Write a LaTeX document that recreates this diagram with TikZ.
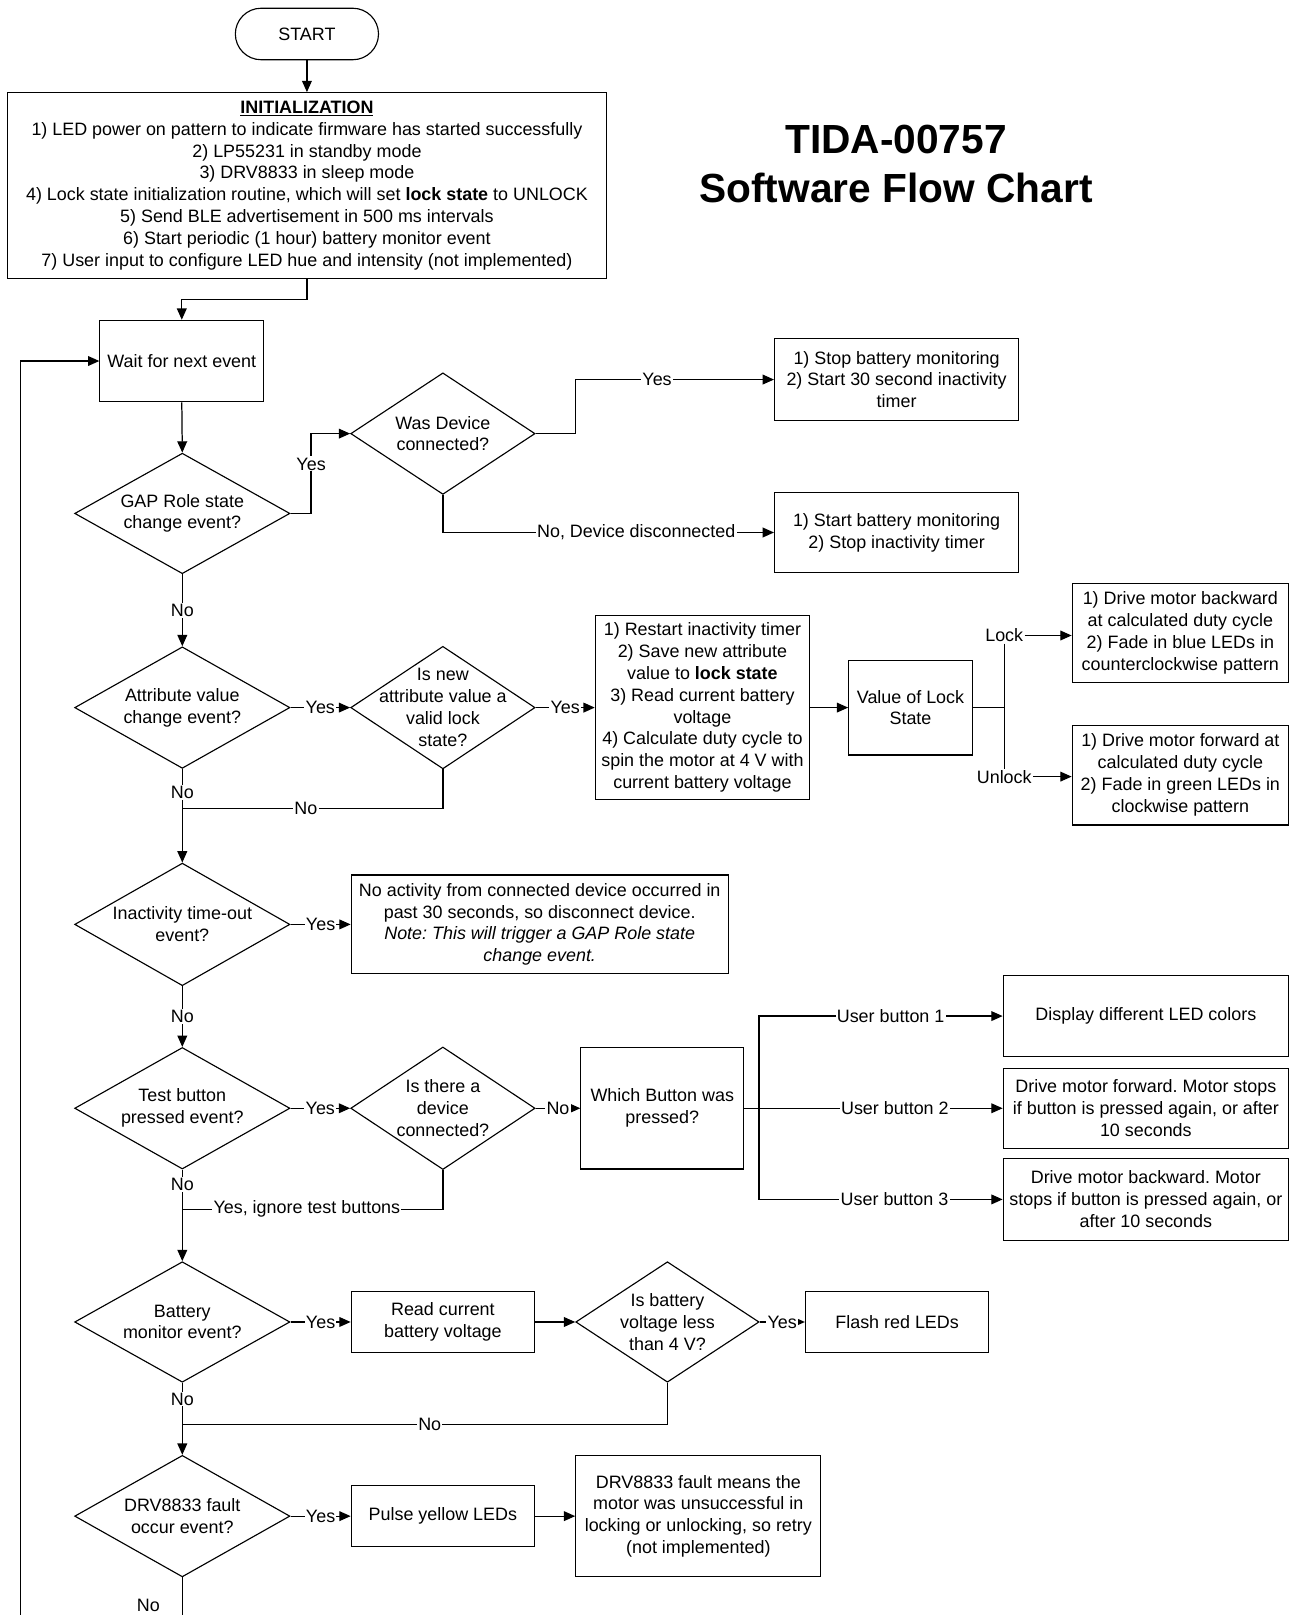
\documentclass[tikz,border=0pt]{standalone}
\usepackage{fontspec}
\setmainfont{Liberation Sans}
\usetikzlibrary{arrows.meta,shapes.geometric,calc}
\frenchspacing
\begin{document}
\begin{tikzpicture}[x=1pt,y=-1pt,
  every node/.style={font=\fontsize{17.4}{21.2}\selectfont},
  box/.style={draw, rectangle, inner sep=0pt, align=center, line width=1.1pt},
  dia/.style={draw, diamond, inner sep=0pt, line width=1.1pt},
  dtext/.style={align=center, inner sep=0pt},
  lbl/.style={fill=white, inner sep=1.2pt},
  conn/.style={line width=1.2pt},
  arr/.style={conn, -{Triangle[length=11pt,width=9.5pt]}},
]
\useasboundingbox (0,0) rectangle (1253.4,1568);
\fill[white] (0,0) rectangle (1253.4,1568);
\clip (0,0) rectangle (1253.4,1568);

% title
\node[align=center, font=\fontsize{39.5}{48}\selectfont\bfseries] (title) at (870,159) {TIDA-00757\\Software Flow Chart};

% nodes
\node[box, rounded corners=25pt, minimum width=139pt, minimum height=50pt] (start) at (298,33) {START};
\node[box, minimum width=582pt, minimum height=180pt] (init) at (298,180) {\underline{\textbf{INITIALIZATION}}\\1) LED power on pattern to indicate firmware has started successfully\\2) LP55231 in standby mode\\3) DRV8833 in sleep mode\\4) Lock state initialization routine, which will set \textbf{lock state} to UNLOCK\\5) Send BLE advertisement in 500 ms intervals\\6) Start periodic (1 hour) battery monitor event\\7) User input to configure LED hue and intensity (not implemented)};
\node[box, minimum width=159pt, minimum height=79pt] (wait) at (176.5,350.5) {Wait for next event};

\node[dia, minimum width=209pt, minimum height=117pt] (gap) at (177,498.5) {};
\node[dtext] at (gap) {GAP Role state\\change event?};
\node[dia, minimum width=179pt, minimum height=118pt] (wasdev) at (430,421) {};
\node[dtext] at (wasdev) {Was Device\\connected?};
\node[box, minimum width=237pt, minimum height=79pt] (box1) at (870.5,368.5) {1) Stop battery monitoring\\2) Start 30 second inactivity\\timer};
\node[box, minimum width=237pt, minimum height=78pt] (box2) at (870.5,517) {1) Start battery monitoring\\2) Stop inactivity timer};

\node[dia, minimum width=209pt, minimum height=118pt] (attr) at (177,687) {};
\node[dtext] at (attr) {Attribute value\\change event?};
\node[dia, minimum width=179pt, minimum height=119pt] (valid) at (430,687) {};
\node[dtext] at (valid) {Is new\\attribute value a\\valid lock\\state?};
\node[box, minimum width=208pt, minimum height=179pt] (box3) at (682,687) {1) Restart inactivity timer\\2) Save new attribute\\value to \textbf{lock state}\\3) Read current battery\\voltage\\4) Calculate duty cycle to\\spin the motor at 4 V with\\current battery voltage};
\node[box, minimum width=120pt, minimum height=92pt] (val) at (884,687) {Value of Lock\\State};
\node[box, minimum width=210pt, minimum height=96pt] (lockbox) at (1146,614.5) {1) Drive motor backward\\at calculated duty cycle\\2) Fade in blue LEDs in\\counterclockwise pattern};
\node[box, minimum width=210pt, minimum height=97pt] (unlockbox) at (1146,752.5) {1) Drive motor forward at\\calculated duty cycle\\2) Fade in green LEDs in\\clockwise pattern};

\node[dia, minimum width=209pt, minimum height=119pt] (inact) at (177,897.5) {};
\node[dtext] at (inact) {Inactivity time-out\\event?};
\node[box, minimum width=366pt, minimum height=96pt] (box4) at (524,897.5) {No activity from connected device occurred in\\past 30 seconds, so disconnect device.\\\textit{Note: This will trigger a GAP Role state}\\\textit{change event.}};

\node[dia, minimum width=209pt, minimum height=118pt] (test) at (177,1076) {};
\node[dtext] at (test) {Test button\\pressed event?};
\node[dia, minimum width=179pt, minimum height=119pt] (isdev) at (430,1076) {};
\node[dtext] at (isdev) {Is there a\\device\\connected?};
\node[box, minimum width=158pt, minimum height=118pt] (which) at (643,1076) {Which Button was\\pressed?};
\node[box, minimum width=277pt, minimum height=79pt] (b1) at (1112.5,986.5) {Display different LED colors};
\node[box, minimum width=277pt, minimum height=78pt] (b2) at (1112.5,1076) {Drive motor forward. Motor stops\\if button is pressed again, or after\\10 seconds};
\node[box, minimum width=277pt, minimum height=79pt] (b3) at (1112.5,1164.5) {Drive motor backward. Motor\\stops if button is pressed again, or\\after 10 seconds};

\node[dia, minimum width=209pt, minimum height=117pt] (batt) at (177,1283.5) {};
\node[dtext] at (batt) {Battery\\monitor event?};
\node[box, minimum width=178pt, minimum height=59pt] (read) at (430,1283.5) {Read current\\battery voltage};
\node[dia, minimum width=178pt, minimum height=117pt] (less) at (648,1283.5) {};
\node[dtext] at (less) {Is battery\\voltage less\\than 4 V?};
\node[box, minimum width=178pt, minimum height=59pt] (flash) at (871,1283.5) {Flash red LEDs};

\node[dia, minimum width=209pt, minimum height=118pt] (drv) at (177,1472) {};
\node[dtext] at (drv) {DRV8833 fault\\occur event?};
\node[box, minimum width=178pt, minimum height=59pt] (pulse) at (430,1472) {Pulse yellow LEDs};
\node[box, minimum width=238pt, minimum height=118pt] (fault) at (678,1472) {DRV8833 fault means the\\motor was unsuccessful in\\locking or unlocking, so retry\\(not implemented)};

% helper coordinates
\coordinate (jl) at (975,687);
\coordinate (jb) at (737,1076);
\coordinate (m1) at (177,785);
\coordinate (m2) at (177,1174);
\coordinate (m3) at (177,1383);
\coordinate (lb1) at (177,1595);
\coordinate (lb2) at (20,1595);

% connectors
\draw[arr] (start.south) -- (init.north);
\draw[arr] (init.south) -- ++(0,20) -| (wait.north);
\draw[arr] (drv.south) -- (lb1) -- (lb2) |- (wait.west);
\node[inner sep=0pt] (nolast) at (144,1559) {No};
\draw[arr] (wait.south) -- (gap.north);

\draw[arr] (gap.east) -- ++(20,0) |- node[lbl,pos=0.31]{Yes} (wasdev.west);
\draw[arr] (wasdev.east) -- ++(39,0) |- node[lbl,pos=0.705]{Yes} (box1.west);
\draw[arr] (wasdev.south) |- node[lbl,pos=0.792]{No, Device disconnected} (box2.west);
\draw[arr] (gap.south) -- node[lbl]{No} (attr.north);

\draw[arr] (attr.east) -- node[lbl]{Yes} (valid.west);
\draw[arr] (valid.east) -- node[lbl]{Yes} (box3.west);
\draw[arr] (box3.east) -- (val.west);
\draw[conn] (val.east) -- (jl);
\node[lbl] (lk) at (975,617) {Lock};
\node[lbl] (ulk) at (975,754) {Unlock};
\draw[conn] (lk.south) -- (ulk.north);
\draw[arr] (lk.east) -- (lk.east -| lockbox.west);
\draw[arr] (ulk.east) -- (ulk.east -| unlockbox.west);

\draw[arr] (attr.south) -- node[lbl,pos=0.25]{No} (inact.north);
\draw[conn] (valid.south) |- node[lbl,pos=0.763]{No} (m1);
\draw[arr] (inact.east) -- node[lbl]{Yes} (box4.west);
\draw[arr] (inact.south) -- node[lbl]{No} (test.north);

\draw[arr] (test.east) -- node[lbl]{Yes} (isdev.west);
\draw[arr] (isdev.east) -- node[lbl]{No} (which.west);
\draw[arr] (which.east) -- node[lbl,pos=0.583]{User button 2} (b2.west);
\draw[arr] (jb) |- node[lbl,pos=0.77]{User button 1} (b1.west);
\draw[arr] (jb) |- node[lbl,pos=0.778]{User button 3} (b3.west);
\draw[arr] (test.south) -- node[lbl,pos=0.167]{No} (batt.north);
\draw[conn] (isdev.south) |- node[lbl,pos=0.761]{Yes, ignore test buttons} (m2);

\draw[arr] (batt.east) -- node[lbl]{Yes} (read.west);
\draw[arr] (read.east) -- (less.west);
\draw[arr] (less.east) -- node[lbl]{Yes} (flash.west);
\draw[arr] (batt.south) -- node[lbl,pos=0.225]{No} (drv.north);
\draw[conn] (less.south) |- node[lbl,pos=0.745]{No} (m3);

\draw[arr] (drv.east) -- node[lbl]{Yes} (pulse.west);
\draw[arr] (pulse.east) -- (fault.west);
\end{tikzpicture}
\end{document}
